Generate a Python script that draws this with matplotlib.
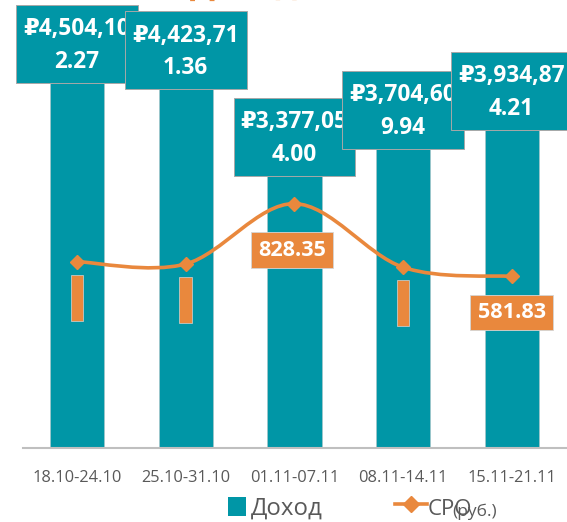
import matplotlib
matplotlib.use('Agg')
import matplotlib.pyplot as plt
import numpy as np
from matplotlib.patches import Rectangle, PathPatch
from matplotlib.path import Path
from matplotlib.lines import Line2D
from matplotlib.transforms import Affine2D, ScaledTranslation

# ---- data ----
weeks = ['18.10-24.10', '25.10-31.10', '01.11-07.11', '08.11-14.11', '15.11-21.11']
income = [4504102.27, 4423711.36, 3377054.00, 3704609.94, 3934874.21]
cpo = [632.0, 624.0, 828.35, 613.0, 581.83]
cpo_label_shown = [False, False, True, False, True]
title_text = 'Доход (всего)'
legend_income = 'Доход'
legend_cpo = 'СРО'
legend_unit = '(руб.)'

# ---- style ----
TEAL = '#0096A6'
ORANGE = '#E9883D'
GREY_TXT = '#595959'
plt.rcParams['font.family'] = ['Open Sans', 'DejaVu Sans']

W, H = 567, 522
fig = plt.figure(figsize=(W / 100, H / 100), dpi=100)
ax = fig.add_axes([22.7 / W, (H - 448.3) / H, (566 - 22.7) / W, (448.3 - 34.8) / H])
ax2 = ax.twinx()

x = np.arange(len(weeks))
ax.bar(x, income, width=0.5, color=TEAL, edgecolor='#9FC6CA', linewidth=0.6, zorder=2)
ax.set_xlim(-0.5, 4.5)
ax.set_ylim(0, 5e6)
ax2.set_ylim(0, 1400)
for a in (ax, ax2):
    for s in a.spines.values():
        s.set_visible(False)
    a.set_yticks([])
ax.spines['bottom'].set_visible(True)
ax.spines['bottom'].set_color('#BFBFBF')
ax.spines['bottom'].set_linewidth(1.5)
ax.set_xticks(x, weeks)
ax.tick_params(axis='x', length=0, pad=15.5, labelsize=11.8, labelcolor=GREY_TXT)


def px_trans(a, xv, yv):
    return Affine2D() + ScaledTranslation(xv, yv, a.transData)


# teal value labels (boxes centred on bars, each covering the previous one)
BW, BH = 121.7, 78.3
for i, v in enumerate(income):
    s = '₽' + f'{v:,.2f}'
    rect = Rectangle((-BW / 2, -7), BW, BH, transform=px_trans(ax, i, v),
                     facecolor=TEAL, edgecolor='#A8A8A8', linewidth=0.7,
                     clip_on=False, zorder=10 + 2 * i)
    ax.add_patch(rect)
    ax.annotate(s[:9], xy=(i, v), xytext=(-BW / 2 + 7, -7 + BH - 24.6),
                textcoords='offset pixels', ha='left', va='center',
                color='white', fontsize=16.3, fontweight='bold',
                annotation_clip=False, zorder=11 + 2 * i)
    ax.annotate(s[9:], xy=(i, v), xytext=(0, -7 + BH - 57),
                textcoords='offset pixels', ha='center', va='center',
                color='white', fontsize=16.3, fontweight='bold',
                annotation_clip=False, zorder=11 + 2 * i)


# smoothed line (Bezier through the data points)
def smooth_path(xs, ys):
    P = list(zip(xs, ys))
    n = len(P)
    verts = [P[0]]
    codes = [Path.MOVETO]
    for i in range(n - 1):
        p0 = P[max(i - 1, 0)]
        p1 = P[i]
        p2 = P[i + 1]
        p3 = P[min(i + 2, n - 1)]
        c1 = (p1[0] + (p2[0] - p0[0]) / 6, p1[1] + (p2[1] - p0[1]) / 6)
        c2 = (p2[0] - (p3[0] - p1[0]) / 6, p2[1] - (p3[1] - p1[1]) / 6)
        verts += [c1, c2, p2]
        codes += [Path.CURVE4] * 3
    return Path(verts, codes)


ax2.add_patch(PathPatch(smooth_path(x, cpo), fill=False, edgecolor=ORANGE,
                        linewidth=2.6, zorder=3))
ax2.plot(x, cpo, ls='none', marker='D', ms=7, color=ORANGE, zorder=4)

cpo_label_dy = [-36, -36, -46.5, -36, -36]
cpo_label_dx = [0, 0, -2.3, 0, 0]
for i, v in enumerate(cpo):
    if cpo_label_shown[i]:
        ax2.annotate(f'{v:.2f}', xy=(i, v), xytext=(cpo_label_dx[i], cpo_label_dy[i]),
                     textcoords='offset pixels', ha='center', va='center',
                     color='white', fontsize=15.6, fontweight='bold', zorder=6,
                     bbox=dict(boxstyle='square,pad=0.33', fc=ORANGE,
                               ec='#D5D5D5', lw=0.6))
    else:
        ax2.add_patch(Rectangle((-6.25, cpo_label_dy[i] - 23), 12.5, 46,
                                transform=px_trans(ax2, i, v), facecolor=ORANGE,
                                edgecolor='#D5D5D5', linewidth=0.5,
                                clip_on=False, zorder=6))

# title (mostly cut off at the top edge)
fig.text(190 / W, 1 + 6.5 / H, title_text, ha='left', va='baseline',
         color=ORANGE, fontsize=23.8, fontweight='bold')

# legend
fig.add_artist(Rectangle((227.7 / W, 1 - 516 / H), 18 / W, 19 / H,
                         transform=fig.transFigure, facecolor=TEAL, edgecolor='none'))
fig.text(250.7 / W, 1 - 515 / H, legend_income, ha='left', va='baseline',
         fontsize=17.3, color=GREY_TXT)
fig.add_artist(Line2D([395 / W, 426.7 / W], [1 - 504.3 / H] * 2,
                      transform=fig.transFigure, color=ORANGE, lw=2.6))
fig.add_artist(Line2D([411 / W], [1 - 504.3 / H], transform=fig.transFigure,
                      marker='D', ms=8.5, color=ORANGE, ls='none'))
fig.text(427.3 / W, 1 - 515 / H, legend_cpo, ha='left', va='baseline',
         fontsize=16, color=GREY_TXT)
fig.text(452 / W, 1 - 516.5 / H, legend_unit, ha='left', va='baseline',
         fontsize=12.5, color=GREY_TXT)

fig.savefig('out.png', dpi=100)
